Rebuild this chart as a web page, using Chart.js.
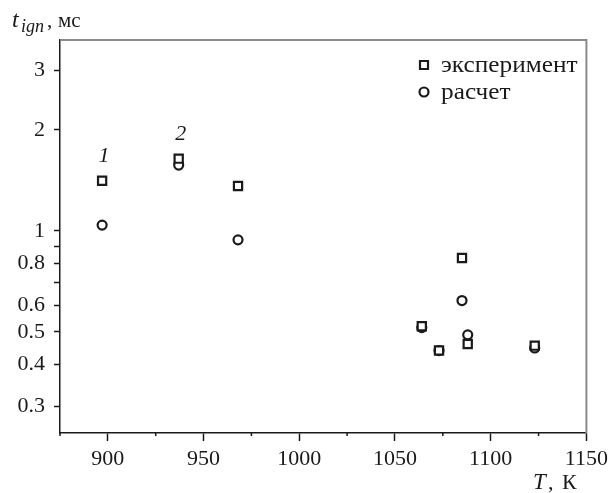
<!DOCTYPE html>
<html lang="ru">
<head>
    <meta charset="UTF-8">
    <title>t_ign vs T</title>
    <script src="https://cdn.jsdelivr.net/npm/chart.js"></script>
    <style>
        body { margin: 0; padding: 0; background: #ffffff; }
        #wrap { width: 613px; height: 493px; position: relative; }
    </style>
</head>
<body>
    <div id="wrap"><canvas id="ignChart" width="613" height="493"></canvas></div>
    <script>
        // data
        const expT = [897, 937, 968, 1064, 1073, 1085, 1088, 1123];
        const expTime = [1.41, 1.64, 1.36, 0.52, 0.44, 0.83, 0.46, 0.455];
        const calcT = [897, 937, 968, 1064, 1073, 1085, 1088, 1123];
        const calcTime = [1.04, 1.57, 0.94, 0.515, 0.44, 0.62, 0.49, 0.448];

        const yTicks = [0.3, 0.4, 0.5, 0.6, 0.7, 0.8, 0.9, 1, 2, 3];
        const yLabels = [0.3, 0.4, 0.5, 0.6, 0.8, 1, 2, 3];
        const legendNames = ['эксперимент', 'расчет'];
        const pointNotes = [{ index: 0, text: '1' }, { index: 1, text: '2' }];

        const FONT = '"Liberation Serif", "Times New Roman", serif';
        const INK = '#1a1a1a';

        const toPts = (xs, ys) => xs.map((x, i) => ({ x: x, y: ys[i] }));

        const extras = {
            id: 'extras',
            afterDraw(chart) {
                const ctx = chart.ctx;
                const a = chart.chartArea;
                const xs = chart.scales.x;
                const ys = chart.scales.y;
                ctx.save();

                // top / right frame
                ctx.strokeStyle = '#8a8a8a';
                ctx.lineWidth = 2;
                ctx.beginPath();
                ctx.moveTo(a.left, a.top);
                ctx.lineTo(a.right, a.top);
                ctx.lineTo(a.right, a.bottom);
                ctx.stroke();

                // short minor ticks on x
                ctx.strokeStyle = INK;
                ctx.lineWidth = 1.5;
                xs.ticks.forEach(t => {
                    if (t.value % 50 !== 0) {
                        const px = xs.getPixelForValue(t.value);
                        ctx.beginPath();
                        ctx.moveTo(px, a.bottom);
                        ctx.lineTo(px, a.bottom + 3);
                        ctx.stroke();
                    }
                });

                // legend
                ctx.lineWidth = 2.2;
                ctx.strokeStyle = INK;
                ctx.fillStyle = '#fff';
                ctx.beginPath();
                ctx.rect(420, 61, 8, 8);
                ctx.fill(); ctx.stroke();
                ctx.beginPath();
                ctx.arc(424, 92, 4.5, 0, Math.PI * 2);
                ctx.fill(); ctx.stroke();
                ctx.fillStyle = INK;
                ctx.font = '23px ' + FONT;
                ctx.textBaseline = 'alphabetic';
                ctx.textAlign = 'left';
                ctx.save();
                ctx.translate(441, 72);
                ctx.scale(1.1, 1);
                ctx.fillText(legendNames[0], 0, 0);
                ctx.fillText(legendNames[1], 0, 27);
                ctx.restore();

                // point numbers
                ctx.font = 'italic 22px ' + FONT;
                ctx.textAlign = 'center';
                ctx.textBaseline = 'middle';
                pointNotes.forEach(n => {
                    const px = xs.getPixelForValue(expT[n.index]);
                    const py = ys.getPixelForValue(expTime[n.index]);
                    ctx.fillText(n.text, px + 2, py - 24);
                });

                // y title: t_ign, мс
                ctx.textAlign = 'left';
                ctx.textBaseline = 'alphabetic';
                ctx.font = 'italic 24px ' + FONT;
                ctx.fillText('t', 12, 27);
                ctx.font = 'italic 18px ' + FONT;
                ctx.fillText('ign', 21, 32);
                ctx.font = '21px ' + FONT;
                ctx.fillText(',', 47, 27);
                ctx.fillText('мс', 58, 27);

                // x title: T, К
                ctx.font = 'italic 23px ' + FONT;
                ctx.fillText('T', 533, 489);
                ctx.font = '22px ' + FONT;
                ctx.fillText(',', 548, 489);
                ctx.fillText('К', 562, 489);
                ctx.restore();
            }
        };

        function initChart() {
            const ctx = document.getElementById('ignChart').getContext('2d');
            new Chart(ctx, {
                type: 'scatter',
                data: {
                    datasets: [
                        {
                            label: legendNames[0],
                            data: toPts(expT, expTime),
                            pointStyle: 'rect',
                            pointRadius: 5.8,
                            borderWidth: 2.2,
                            borderColor: INK,
                            backgroundColor: '#fff'
                        },
                        {
                            label: legendNames[1],
                            data: toPts(calcT, calcTime),
                            pointStyle: 'circle',
                            pointRadius: 4.5,
                            borderWidth: 2.2,
                            borderColor: INK,
                            backgroundColor: 'rgba(255,255,255,0)'
                        }
                    ]
                },
                options: {
                    responsive: false,
                    animation: false,
                    layout: { padding: { left: 0, top: 40, right: 26, bottom: 0 } },
                    plugins: { legend: { display: false }, tooltip: { enabled: false } },
                    scales: {
                        x: {
                            type: 'linear',
                            min: 875,
                            max: 1150,
                            afterFit: s => { s.height = 60; },
                            border: { color: INK, width: 1.5 },
                            grid: {
                                drawOnChartArea: false,
                                tickLength: 8,
                                tickWidth: 1.5,
                                tickColor: c => (c.tick && c.tick.value % 50 === 0) ? INK : 'rgba(0,0,0,0)'
                            },
                            ticks: {
                                stepSize: 25,
                                maxRotation: 0,
                                autoSkip: false,
                                padding: 5,
                                color: INK,
                                font: { family: FONT, size: 22 },
                                callback: v => v % 50 === 0 ? String(v) : ''
                            }
                        },
                        y: {
                            type: 'logarithmic',
                            min: 0.25,
                            max: 3.7,
                            afterFit: s => { s.width = 60; },
                            afterBuildTicks: s => { s.ticks = yTicks.map(v => ({ value: v })); },
                            border: { color: INK, width: 1.5 },
                            grid: {
                                drawOnChartArea: false,
                                tickLength: 6,
                                tickWidth: 1.5,
                                tickColor: INK
                            },
                            ticks: {
                                autoSkip: false,
                                padding: 9,
                                color: INK,
                                font: { family: FONT, size: 22 },
                                callback: v => yLabels.includes(v) ? String(v) : ''
                            }
                        }
                    }
                },
                plugins: [extras]
            });
        }
        initChart();
    </script>
</body>
</html>
